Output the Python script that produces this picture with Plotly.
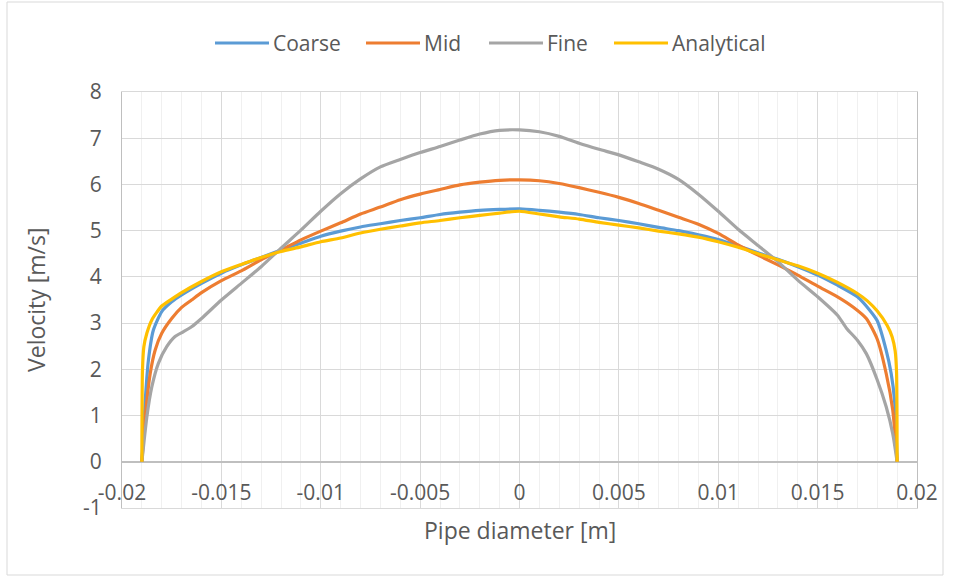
import plotly.graph_objects as go

# ---- data ----
coarse_x = [-0.019, -0.01883, -0.01867, -0.01842, -0.018, -0.0175, -0.017, -0.016, -0.015, -0.014,
            -0.013, -0.012, -0.011, -0.010, -0.009, -0.008, -0.007, -0.006, -0.005, -0.004,
            -0.003, -0.002, -0.001, 0.0, 0.001, 0.002, 0.003, 0.004, 0.005, 0.006, 0.007,
            0.008, 0.009, 0.010, 0.011, 0.012, 0.013, 0.014, 0.015, 0.016, 0.017, 0.01762,
            0.018, 0.01845, 0.0187, 0.01887, 0.019]
coarse_v = [0.0, 1.33, 2.20, 2.85, 3.25, 3.46, 3.61, 3.86, 4.08, 4.26,
            4.42, 4.58, 4.73, 4.88, 4.99, 5.08, 5.15, 5.22, 5.28, 5.35,
            5.40, 5.44, 5.46, 5.47, 5.44, 5.40, 5.35, 5.28, 5.22, 5.15, 5.07,
            5.00, 4.91, 4.81, 4.67, 4.52, 4.38, 4.22, 4.04, 3.82, 3.57, 3.28,
            3.05, 2.41, 1.91, 1.33, 0.0]

mid_x = [-0.019, -0.01883, -0.01858, -0.01833, -0.018, -0.0175, -0.017, -0.0165, -0.016, -0.015,
         -0.014, -0.013, -0.012, -0.011, -0.010, -0.009, -0.008, -0.007, -0.006, -0.005,
         -0.004, -0.003, -0.002, -0.001, 0.0, 0.001, 0.002, 0.003, 0.004, 0.005, 0.006,
         0.007, 0.008, 0.009, 0.010, 0.011, 0.012, 0.013, 0.014, 0.015, 0.016, 0.01678,
         0.01745, 0.018, 0.01845, 0.01878, 0.019]
mid_v = [0.0, 0.97, 1.91, 2.42, 2.78, 3.10, 3.34, 3.50, 3.66, 3.92,
         4.13, 4.37, 4.58, 4.80, 4.99, 5.17, 5.36, 5.51, 5.67, 5.79,
         5.89, 5.99, 6.05, 6.09, 6.10, 6.08, 6.02, 5.93, 5.83, 5.72, 5.59,
         5.44, 5.29, 5.14, 4.94, 4.69, 4.47, 4.26, 4.04, 3.80, 3.57, 3.35,
         3.10, 2.65, 1.91, 1.12, 0.0]

fine_x = [-0.019, -0.01875, -0.0185, -0.01817, -0.01775, -0.01733, -0.01692, -0.0165, -0.016, -0.015,
          -0.014, -0.013, -0.012, -0.011, -0.010, -0.009, -0.008, -0.007, -0.006, -0.005,
          -0.004, -0.003, -0.002, -0.001, 0.0, 0.001, 0.002, 0.003, 0.004, 0.005, 0.006,
          0.007, 0.008, 0.009, 0.010, 0.011, 0.012, 0.013, 0.014, 0.015, 0.016, 0.01645,
          0.017, 0.01745, 0.018, 0.01845, 0.01878, 0.019]
fine_v = [0.0, 0.97, 1.62, 2.13, 2.49, 2.71, 2.81, 2.92, 3.10, 3.50,
          3.86, 4.22, 4.62, 5.01, 5.42, 5.80, 6.12, 6.38, 6.54, 6.69,
          6.82, 6.96, 7.09, 7.17, 7.18, 7.14, 7.04, 6.89, 6.76, 6.64, 6.49,
          6.33, 6.11, 5.79, 5.42, 5.03, 4.68, 4.33, 3.93, 3.57, 3.17, 2.89,
          2.63, 2.34, 1.77, 1.19, 0.61, 0.0]

analytical_x = [-0.019, -0.01897, -0.0189, -0.01875, -0.0185, -0.018, -0.0175, -0.017, -0.016, -0.015,
                -0.014, -0.013, -0.012, -0.011, -0.010, -0.009, -0.008, -0.007, -0.006, -0.005,
                -0.004, -0.003, -0.002, -0.001, 0.0, 0.001, 0.002, 0.003, 0.004, 0.005, 0.006,
                0.007, 0.008, 0.009, 0.010, 0.011, 0.012, 0.013, 0.014, 0.015, 0.016, 0.017,
                0.0175, 0.018, 0.0185, 0.01875, 0.0189, 0.01897, 0.019]
analytical_v = [0.0, 1.98, 2.49, 2.78, 3.07, 3.37, 3.52, 3.66, 3.90, 4.11,
                4.27, 4.42, 4.55, 4.65, 4.76, 4.84, 4.95, 5.03, 5.10, 5.17,
                5.22, 5.28, 5.33, 5.38, 5.42, 5.36, 5.30, 5.25, 5.18, 5.12, 5.06,
                4.99, 4.93, 4.86, 4.76, 4.64, 4.50, 4.37, 4.24, 4.08, 3.88, 3.64,
                3.48, 3.26, 2.95, 2.70, 2.40, 1.95, 0.0]

series_names = ["Coarse", "Mid", "Fine", "Analytical"]
series_colors = ["#5B9BD5", "#ED7D31", "#A5A5A5", "#FFC000"]

x_tick_vals = [-0.02, -0.015, -0.01, -0.005, 0.0, 0.005, 0.01, 0.015, 0.02]
x_tick_text = ["-0.02", "-0.015", "-0.01", "-0.005", "0", "0.005", "0.01", "0.015", "0.02"]
y_tick_vals = [-1, 0, 1, 2, 3, 4, 5, 6, 7, 8]
y_tick_text = ["-1", "0", "1", "2", "3", "4", "5", "6", "7", "8"]

x_title = "Pipe diameter [m]"
y_title = "Velocity [m/s]"

FONT = "Open Sans"
TXT = "#595959"

# plot-area geometry (px) used to place legend / border in paper units
L, R, T, B = 122, 917, 92, 508
PW, PH = R - L, B - T


def px_to_paper_x(px):
    return (px - L) / PW


def px_to_paper_y(py):
    return (B - py) / PH


fig = go.Figure()
for name, xs, vs, col in zip(series_names,
                             [coarse_x, mid_x, fine_x, analytical_x],
                             [coarse_v, mid_v, fine_v, analytical_v],
                             series_colors):
    fig.add_trace(go.Scatter(x=xs, y=vs, mode="lines", name=name, showlegend=False,
                             line=dict(color=col, width=3.2, shape="spline", smoothing=0.6)))

fig.update_layout(
    width=960, height=577,
    margin=dict(l=L, r=960 - R, t=T, b=577 - B),
    paper_bgcolor="white", plot_bgcolor="white",
    font=dict(family=FONT, color=TXT, size=21),
    showlegend=False,
)

fig.update_xaxes(
    range=[-0.02, 0.02], automargin=False,
    tickmode="array", tickvals=x_tick_vals, ticktext=x_tick_text,
    tickfont=dict(family=FONT, size=21, color=TXT),
    ticklabelstandoff=-34,
    showgrid=True, gridcolor="#d9d9d9", gridwidth=1,
    minor=dict(dtick=0.001, tick0=0, showgrid=True, gridcolor="#f0f0f0", gridwidth=1),
    zeroline=False,
    showline=True, linecolor="#d9d9d9", linewidth=1, mirror=True,
    ticks="",
)
fig.update_yaxes(
    range=[-1, 8], automargin=False,
    tickmode="array", tickvals=y_tick_vals, ticktext=y_tick_text,
    tickfont=dict(family=FONT, size=21, color=TXT),
    ticklabelstandoff=15,
    showgrid=True, gridcolor="#d9d9d9", gridwidth=1,
    zeroline=True, zerolinecolor="#bfbfbf", zerolinewidth=1.5,
    showline=True, linecolor="#bfbfbf", linewidth=1, mirror=True,
    ticks="",
)

# custom legend (line sample + label), positions in px of the reference
legend_line_px = [(215, 269), (366, 420), (489, 543), (614, 668)]
legend_y_px = 43
for name, col, (x0, x1) in zip(series_names, series_colors, legend_line_px):
    fig.add_shape(type="line", xref="paper", yref="paper",
                  x0=px_to_paper_x(x0), x1=px_to_paper_x(x1),
                  y0=px_to_paper_y(legend_y_px), y1=px_to_paper_y(legend_y_px),
                  line=dict(color=col, width=3.2))
    fig.add_annotation(text=name, xref="paper", yref="paper",
                       x=px_to_paper_x(x1 + 2), y=px_to_paper_y(legend_y_px),
                       xanchor="left", yanchor="middle", showarrow=False,
                       font=dict(family=FONT, size=21, color=TXT))

# axis titles
fig.add_annotation(text=x_title, xref="paper", yref="paper", x=0.5, y=px_to_paper_y(530),
                   xanchor="center", yanchor="middle", showarrow=False,
                   font=dict(family=FONT, size=23, color=TXT))
fig.add_annotation(text=y_title, xref="paper", yref="paper", x=px_to_paper_x(36), y=0.5,
                   xanchor="center", yanchor="middle", showarrow=False, textangle=-90,
                   font=dict(family=FONT, size=23, color=TXT))

# chart area border
fig.add_shape(type="rect", xref="paper", yref="paper",
              x0=px_to_paper_x(7), x1=px_to_paper_x(943),
              y0=px_to_paper_y(575), y1=px_to_paper_y(2),
              line=dict(color="#d9d9d9", width=1), fillcolor="rgba(0,0,0,0)", layer="below")

fig.write_html("out.html", config={"displayModeBar": False},
               post_script="document.body.style.margin='0';")
